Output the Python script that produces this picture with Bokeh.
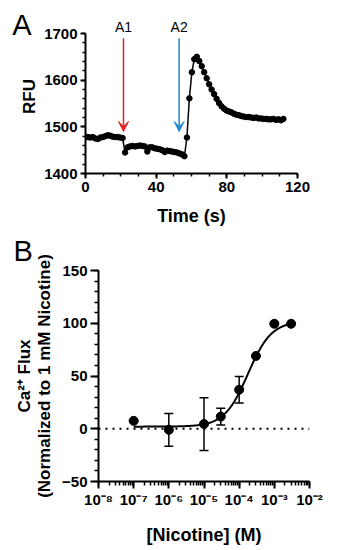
import numpy as np
from bokeh.plotting import figure
from bokeh.layouts import column
from bokeh.models import (SingleIntervalTicker, Arrow, VeeHead, Label, Whisker, TeeHead,
                          ColumnDataSource, Span, FixedTicker, CustomJSTickFormatter, LinearAxis)
from bokeh.embed import file_html
from bokeh.resources import INLINE

# ---------------- Panel A data ----------------
time_s = [0.0, 1.4, 2.8, 4.2, 5.6, 7.0, 8.4, 9.8, 11.2, 12.6, 14.0, 15.4, 16.8, 18.2, 19.6, 21.0,
          22.4, 23.8, 25.2, 26.6, 28.0, 29.4, 30.8, 32.2, 33.6, 35.0, 36.4, 37.8, 39.2, 40.6,
          42.0, 43.4, 44.8, 46.2, 47.6, 49.0, 50.4, 51.8, 53.2, 54.6, 56.0, 57.4, 58.8, 60.2,
          61.6, 63.0, 64.4, 65.8, 67.2, 68.6, 70.0, 71.4, 72.8, 74.2, 75.6, 77.0, 78.4, 79.8,
          81.2, 82.6, 84.0, 85.4, 86.8, 88.2, 89.6, 91.0, 92.4, 93.8, 95.2, 96.6, 98.0, 99.4,
          100.8, 102.2, 103.6, 105.0, 106.4, 107.8, 109.2, 110.6, 112.0]
rfu = [1479, 1478, 1477, 1478, 1475, 1474, 1477, 1478, 1480, 1482, 1481, 1479, 1478, 1478, 1477, 1476,
       1445, 1456, 1458, 1459, 1458, 1459, 1460, 1459, 1458, 1447, 1456, 1456, 1454, 1453,
       1452, 1450, 1446, 1449, 1448, 1447, 1446, 1445, 1443, 1441, 1437, 1477, 1561, 1617,
       1645, 1650, 1641, 1630, 1617, 1604, 1591, 1580, 1570, 1560, 1551, 1544, 1539, 1535,
       1533, 1531, 1528, 1526, 1525, 1523, 1522, 1521, 1521, 1520, 1519, 1520, 1518, 1518,
       1517, 1517, 1516, 1516, 1517, 1515, 1516, 1514, 1517]
arrow_names = ["A1", "A2"]
arrow_times = [21.5, 53.0]
arrow_colors = ["#e8222a", "#2088d0"]

# ---------------- Panel B data ----------------
nicotine_M = [1e-7, 1e-6, 1e-5, 3e-5, 1e-4, 3e-4, 1e-3, 3e-3]
flux = [7.5, -1.0, 4.5, 11.5, 37.0, 69.0, 99.5, 99.5]
flux_err = [0.0, 15.5, 25.0, 8.0, 12.5, 0.0, 0.0, 0.0]
fit_bottom, fit_top, fit_logec50, fit_hill = 2.0, 102.0, -3.75, 1.3
x_decades = [-8, -7, -6, -5, -4, -3, -2]
panel_letters = ["A", "B"]

FONT = "Liberation Sans"

def style_axes(p, tick_size="15px", title_size="17px"):
    for ax in (p.xaxis[0], p.yaxis[0]):
        ax.axis_line_width = 2
        ax.axis_line_color = "black"
        ax.major_tick_line_width = 2
        ax.minor_tick_line_width = 1.5
        ax.major_tick_line_color = "black"
        ax.minor_tick_line_color = "black"
        ax.major_tick_in = 0
        ax.minor_tick_in = 0
        ax.major_label_text_font = FONT
        ax.major_label_text_font_style = "bold"
        ax.major_label_text_font_size = tick_size
        ax.major_label_text_color = "black"
        ax.axis_label_text_font = FONT
        ax.axis_label_text_font_style = "bold"
        ax.axis_label_text_font_size = title_size
        ax.axis_label_text_color = "black"
    p.xgrid.visible = False
    p.ygrid.visible = False
    p.outline_line_color = None

# ---------------- Panel A ----------------
pA = figure(width=337, height=228, x_range=(0, 120), y_range=(1400, 1730),
            output_backend="svg", toolbar_location=None, frame_align=False,
            min_border_left=85, min_border_right=40, min_border_top=19, min_border_bottom=54)
style_axes(pA)
pA.xaxis.axis_label = "Time (s)"
pA.yaxis.axis_label = "RFU"
pA.yaxis.bounds = (1400, 1700)
pA.xaxis.ticker = SingleIntervalTicker(interval=40, num_minor_ticks=4)
pA.yaxis.ticker = SingleIntervalTicker(interval=100, num_minor_ticks=5)
pA.xaxis.major_tick_out = 5
pA.xaxis.minor_tick_out = 3
pA.yaxis.major_tick_out = 5
pA.yaxis.minor_tick_out = 3
pA.xaxis.major_label_standoff = 3
pA.yaxis.major_label_standoff = 3
pA.xaxis.axis_label_standoff = 11
pA.yaxis.axis_label_standoff = 2
pA.xaxis.axis_label_text_font_size = "18px"

srcA = ColumnDataSource(dict(t=time_s, v=rfu))
pA.line("t", "v", source=srcA, line_color="black", line_width=1.5)
pA.scatter("t", "v", source=srcA, size=5.5, fill_color="black", line_color="black")

for name, t, c in zip(arrow_names, arrow_times, arrow_colors):
    pA.add_layout(Arrow(x_start=t, y_start=1690, x_end=t, y_end=1490,
                        line_color=c, line_width=1.5,
                        end=VeeHead(size=10, fill_color=c, line_color=c, line_width=1)))
    pA.add_layout(Label(x=t, y=1713, text=name, text_font=FONT, text_font_size="14px",
                        text_align="center", text_baseline="middle", text_color="black"))

# panel letter "A" drawn as the only tick label of an extra, otherwise invisible left axis
letter_axis = LinearAxis(ticker=FixedTicker(ticks=[1719], minor_ticks=[]),
                         major_label_overrides={1719: panel_letters[0]},
                         axis_line_color=None, major_tick_line_color=None,
                         minor_tick_line_color=None, major_tick_in=0, major_tick_out=0,
                         minor_tick_in=0, minor_tick_out=0,
                         major_label_text_font=FONT, major_label_text_font_size="29px",
                         major_label_text_color="black", major_label_standoff=-14)
pA.add_layout(letter_axis, "left")

# ---------------- Panel B ----------------
pB = figure(width=337, height=322, x_axis_type="log", x_range=(1e-8, 1e-2), y_range=(-50, 150),
            output_backend="svg", toolbar_location=None, frame_align=False,
            min_border_left=98, min_border_right=28, min_border_top=40, min_border_bottom=69)
style_axes(pB)
pB.xaxis.axis_label = "[Nicotine] (M)"
pB.yaxis.axis_label = "Ca\u00b2\u207a Flux\n(Normalized to 1 mM Nicotine)"
pB.xaxis.axis_label_text_font_size = "18px"
pB.yaxis.axis_label_text_line_height = 1.05
major_x = [10.0 ** d for d in x_decades]
minor_x = [k * 10.0 ** d for d in x_decades[:-1] for k in range(1, 10)] + [major_x[-1]]
pB.xaxis.ticker = FixedTicker(ticks=major_x, minor_ticks=minor_x)
pB.xaxis.formatter = CustomJSTickFormatter(code="""
const e = Math.round(Math.log10(tick));
const sup = {'-':'\u207b','0':'\u2070','1':'\u00b9','2':'\u00b2','3':'\u00b3','4':'\u2074',
             '5':'\u2075','6':'\u2076','7':'\u2077','8':'\u2078','9':'\u2079'};
return '10' + String(e).split('').map(c => sup[c]).join('');
""")
pB.yaxis.ticker = SingleIntervalTicker(interval=50, num_minor_ticks=5)
pB.xaxis.major_tick_out = 7
pB.xaxis.minor_tick_out = 4
pB.yaxis.major_tick_out = 8
pB.yaxis.minor_tick_out = 4
pB.xaxis.major_label_standoff = 2
pB.yaxis.major_label_standoff = 3
pB.xaxis.axis_label_standoff = 14
pB.yaxis.axis_label_standoff = 5

pB.title.text = panel_letters[1]
pB.title.align = "left"
pB.title.offset = -85
pB.title.standoff = 8
pB.title.vertical_align = "bottom"
pB.title.text_font = FONT
pB.title.text_font_size = "29px"
pB.title.text_font_style = "normal"
pB.title.text_color = "black"

pB.add_layout(Span(location=0, dimension="width", line_color="black", line_width=2,
                   line_dash="2 5"))

xfit = np.logspace(np.log10(nicotine_M[0]), np.log10(nicotine_M[-1]), 200)
yfit = fit_bottom + (fit_top - fit_bottom) / (1 + 10 ** ((fit_logec50 - np.log10(xfit)) * fit_hill))
pB.line(xfit, yfit, line_color="black", line_width=2)

lower = [f - e for f, e in zip(flux, flux_err)]
upper = [f + e for f, e in zip(flux, flux_err)]
srcB = ColumnDataSource(dict(x=nicotine_M, y=flux, lo=lower, hi=upper))
pB.add_layout(Whisker(source=srcB, base="x", lower="lo", upper="hi", line_color="black",
                      line_width=1.5,
                      lower_head=TeeHead(size=9, line_color="black", line_width=1.5),
                      upper_head=TeeHead(size=9, line_color="black", line_width=1.5)))
pB.scatter("x", "y", source=srcB, size=9, fill_color="black", line_color="black")

layout = column(pA, pB, spacing=0)
open("out.html", "w").write(file_html(layout, INLINE))
